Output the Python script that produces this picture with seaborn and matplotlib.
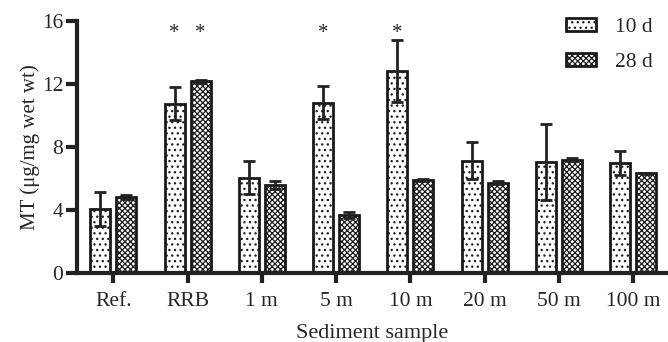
import numpy as np
import pandas as pd
import matplotlib
matplotlib.use("Agg")
import matplotlib.pyplot as plt
import seaborn as sns
from matplotlib.patches import Patch

samples = ["Ref.", "RRB", "1 m", "5 m", "10 m", "20 m", "50 m", "100 m"]
times = ["10 d", "28 d"]
mt_10d = [4.06, 10.75, 6.05, 10.8, 12.8, 7.13, 7.05, 7.0]
err_10d = [1.1, 1.06, 1.04, 1.05, 1.97, 1.17, 2.4, 0.75]
mt_28d = [4.83, 12.17, 5.6, 3.68, 5.92, 5.73, 7.19, 6.33]
err_28d = [0.1, 0.1, 0.25, 0.2, 0.08, 0.1, 0.1, 0.05]
sig_10d = [False, True, False, True, True, False, False, False]
sig_28d = [False, True, False, False, False, False, False, False]
y_ticks = [0, 4, 8, 12, 16]

sns.set_style("ticks")
plt.rcParams["font.family"] = ["Liberation Serif", "DejaVu Serif"]
plt.rcParams["hatch.linewidth"] = 0.9

df = pd.DataFrame({
    "sample": samples * 2,
    "time": [times[0]] * len(samples) + [times[1]] * len(samples),
    "mt": mt_10d + mt_28d,
})

fig = plt.figure(figsize=(6.68, 3.42), dpi=100)
ax = fig.add_axes([77 / 668, (342 - 273) / 342, 1 - 77 / 668, (273 - 21) / 342])

sns.barplot(data=df, x="sample", y="mt", hue="time", order=samples, hue_order=times,
            palette=["white", "white"], edgecolor="#1a1a1a", linewidth=2,
            width=0.7, gap=0.23, errorbar=None, legend=False, ax=ax)

hatches = ["...", "xxxxxx"]
errs = [err_10d, err_28d]
vals = [mt_10d, mt_28d]
sigs = [sig_10d, sig_28d]
bar_containers = list(ax.containers)
for ci, cont in enumerate(bar_containers):
    xs = []
    for p in cont.patches:
        p.set_hatch(hatches[ci])
        xs.append(p.get_x() + p.get_width() / 2)
    ax.errorbar(xs, vals[ci], yerr=errs[ci], fmt="none", ecolor="#222222",
                elinewidth=2, capsize=4.5, capthick=2, zorder=5)
    for x, s in zip(xs, sigs[ci]):
        if s:
            ax.text(x, 15.2, "*", ha="center", va="center", fontsize=15)

ax.set_ylim(0, 16)
ax.set_yticks(y_ticks)
ax.set_xlim(-0.49, 7.47)
ax.set_xlabel("Sediment sample", fontsize=16, labelpad=9)
ax.set_ylabel("MT (μg/mg wet wt)", fontsize=15, labelpad=1)
ax.tick_params(axis="both", labelsize=15.5, width=3, length=8, color="#222222")
ax.tick_params(axis="x", length=7, pad=7)
ax.tick_params(axis="y", pad=2)
for side in ["left", "bottom"]:
    ax.spines[side].set_linewidth(3)
    ax.spines[side].set_color("#222222")
sns.despine(ax=ax)

handles = [Patch(facecolor="white", edgecolor="#1a1a1a", linewidth=2, hatch=h) for h in hatches]
ax.legend(handles, times, loc="upper right", bbox_to_anchor=(1.0, 1.072), frameon=False,
          fontsize=15.5, handlelength=1.4, handleheight=0.55, handletextpad=0.9,
          labelspacing=0.75, borderaxespad=0.3)

fig.savefig("out.png", dpi=100)
